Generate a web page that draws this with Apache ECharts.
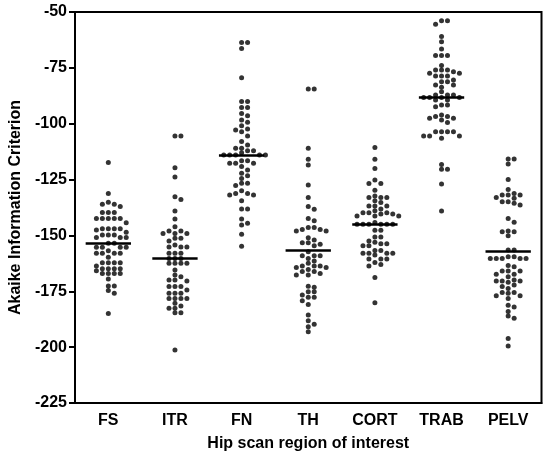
<!DOCTYPE html>
<html>
<head>
<meta charset="utf-8">
<script src="https://cdn.jsdelivr.net/npm/echarts@6/dist/echarts.min.js"></script>
<style>
html,body{margin:0;padding:0;background:#fff;}
#chart{width:550px;height:458px;}
</style>
</head>
<body>
<div id="chart"></div>
<script>
// ---- data ----
var categories = ['FS', 'ITR', 'FN', 'TH', 'CORT', 'TRAB', 'PELV'];
var yTicks = [-225, -200, -175, -150, -125, -100, -75, -50];

var FS = [-117.4, -131.2, -135.2, -136.1, -136.1, -137.1, -139.7, -139.7, -139.7,
  -142.4, -142.4, -142.4, -142.4, -142.4, -144.3, -147.0, -147.0, -147.0, -147.0,
  -147.6, -148.6, -149.8, -149.8, -149.8, -150.9, -150.9, -150.9, -153.5, -153.5,
  -155.3, -155.3, -155.3, -155.3, -156.9, -158.0, -158.0, -158.0, -158.0, -159.8,
  -162.2, -162.2, -162.2, -162.2, -163.7, -164.9, -164.9, -164.9, -164.9, -165.8,
  -167.0, -167.0, -167.0, -167.0, -169.5, -172.6, -172.6, -174.7, -175.9, -184.9];
var ITR = [-105.5, -105.5, -119.7, -123.9, -132.7, -133.9, -139.1, -142.7, -146.1,
  -148.0, -148.0, -149.1, -149.1, -149.1, -151.3, -151.3, -152.5, -154.3,
  -155.2, -155.2, -155.2, -158.0, -158.0, -158.0, -160.3, -160.3, -160.3,
  -162.5, -162.5, -162.5, -162.5, -165.5, -167.7, -168.5, -170.0, -170.0, -170.4,
  -172.9, -172.9, -172.9, -174.4, -175.9, -175.9, -175.9, -178.2, -178.2, -178.2,
  -178.2, -180.4, -181.6, -182.6, -182.6, -184.6, -184.6, -201.3];
var FN = [-63.7, -63.7, -66.3, -79.4, -90.1, -90.1, -92.7, -92.7, -95.4, -96.4,
  -98.3, -99.4, -100.9, -102.4, -102.8, -103.6, -105.5, -108.0, -109.5, -111.0,
  -111.0, -112.1, -112.1, -113.0, -114.0, -114.0, -114.0, -114.0, -114.0, -116.6,
  -116.6, -117.7, -117.7, -117.7, -119.2, -120.7, -122.2, -123.3, -124.5, -126.7,
  -126.7, -127.7, -130.0, -131.2, -131.2, -131.9, -131.9, -134.5, -138.2, -138.2,
  -142.7, -144.6, -145.3, -149.5, -154.8];
var TH = [-84.5, -84.5, -111.0, -115.9, -118.5, -127.4, -133.0, -137.1, -138.3,
  -142.4, -143.4, -146.5, -146.5, -147.3, -147.3, -148.0, -148.0, -151.0, -152.1,
  -153.3, -153.3, -154.0, -154.6, -157.3, -159.1, -159.1, -159.1, -160.3, -161.5,
  -162.5, -163.7, -163.7, -163.7, -164.4, -164.4, -165.2, -166.2, -166.2, -167.0,
  -167.7, -167.7, -172.7, -173.2, -175.2, -175.2, -176.7, -177.7, -177.7, -179.2,
  -180.9, -185.6, -188.2, -189.7, -190.9, -193.1];
var CORT = [-110.7, -115.9, -120.1, -125.2, -126.8, -126.8, -129.8, -132.4, -133.0,
  -133.0, -133.0, -134.5, -135.3, -136.8, -136.8, -136.8, -138.2, -138.9, -139.8,
  -139.8, -139.8, -140.4, -140.4, -141.3, -141.3, -141.3, -144.2, -145.0, -145.0,
  -145.0, -145.0, -145.0, -145.0, -147.7, -147.7, -150.7, -150.7, -152.5, -153.1,
  -153.7, -153.7, -154.6, -154.6, -156.8, -156.8, -158.0, -158.0, -158.0, -158.0,
  -158.8, -160.6, -160.6, -160.6, -162.1, -163.0, -163.7, -168.8, -180.1];
var TRAB = [-53.9, -53.9, -55.5, -61.0, -63.3, -66.6, -69.5, -69.5, -69.5, -74.0,
  -76.0, -76.0, -76.0, -76.7, -77.4, -77.4, -78.6, -78.6, -78.6, -80.4, -81.2,
  -81.2, -82.7, -82.7, -83.7, -85.7, -87.1, -87.1, -87.1, -88.3, -88.3, -88.3,
  -88.3, -89.4, -89.4, -91.6, -91.6, -92.4, -96.1, -96.8, -96.8, -97.6, -97.6,
  -98.3, -99.5, -103.6, -103.6, -103.6, -103.6, -105.5, -105.5, -105.5, -106.5,
  -118.2, -120.4, -120.4, -127.0, -139.1];
var PELV = [-115.8, -115.8, -118.0, -125.0, -129.4, -131.2, -131.9, -131.9, -131.9,
  -133.0, -133.4, -134.9, -134.9, -135.6, -136.4, -142.4, -144.1, -148.0, -148.3,
  -148.3, -150.1, -156.5, -156.5, -159.5, -159.5, -160.3, -160.3, -160.3, -160.3,
  -160.3, -163.5, -164.0, -165.9, -165.9, -165.9, -167.4, -167.4, -168.5, -170.0,
  -170.4, -170.4, -170.4, -171.0, -172.2, -172.9, -173.7, -175.5, -175.5, -175.9,
  -177.0, -177.0, -178.2, -181.2, -182.0, -184.1, -186.1, -187.1, -196.1, -199.5];
var medians = [-153.7, -160.4, -114.0, -156.5, -145.0, -88.3, -157.0];

// ---- layout ----
var W = 550, H = 458;
var gridLeft = 72, gridRight = 8.5, gridTop = 12, gridBottom = 55;
var yMin = -225, yMax = -50;
var groups = [FS, ITR, FN, TH, CORT, TRAB, PELV];
var pxPerY = (H - gridTop - gridBottom) / (yMax - yMin);
var pxPerCat = (W - gridLeft - gridRight) / categories.length;
var colStepPx = 6;
var minGapPx = 4.4;

// beeswarm on a fixed column grid, computed from the values
function swarm(values, catIndex) {
  var sorted = values.slice().sort(function (a, b) { return b - a; });
  var placed = [];
  var out = [];
  sorted.forEach(function (v) {
    for (var k = 0; k < 40; k++) {
      var col = (k === 0) ? 0 : (k % 2 === 1 ? (k + 1) / 2 : -k / 2);
      var ok = true;
      for (var j = 0; j < placed.length; j++) {
        if (placed[j].col === col && Math.abs(placed[j].v - v) * pxPerY < minGapPx) { ok = false; break; }
      }
      if (ok) {
        placed.push({ col: col, v: v });
        out.push([catIndex + col * colStepPx / pxPerCat, v]);
        break;
      }
    }
  });
  return out;
}

var pts = [];
groups.forEach(function (g, i) { pts = pts.concat(swarm(g, i)); });

var medianLines = medians.map(function (m, i) {
  return [{ coord: [i - 0.34, m] }, { coord: [i + 0.34, m] }];
});

var font = 'Liberation Sans, Arial, Helvetica, sans-serif';
var chart = echarts.init(document.getElementById('chart'), null, { renderer: 'canvas' });
chart.setOption({
  animation: false,
  backgroundColor: '#fff',
  grid: {
    left: gridLeft, right: gridRight, top: gridTop, bottom: gridBottom,
    show: true, borderColor: '#000', borderWidth: 2, backgroundColor: 'transparent'
  },
  xAxis: [{
    type: 'category',
    data: categories,
    boundaryGap: true,
    axisLine: { onZero: false, lineStyle: { color: '#000', width: 2 } },
    axisTick: { alignWithLabel: true, length: 5, lineStyle: { color: '#000', width: 2 } },
    axisLabel: { color: '#000', fontWeight: 'bold', fontSize: 16, fontFamily: font, margin: 10 },
    splitLine: { show: false },
    name: 'Hip scan region of interest',
    nameLocation: 'middle',
    nameGap: 33,
    nameTextStyle: { color: '#000', fontWeight: 'bold', fontSize: 16, fontFamily: font }
  }, {
    type: 'value',
    min: -0.5, max: categories.length - 0.5,
    show: false,
    splitLine: { show: false }
  }],
  yAxis: {
    type: 'value',
    min: yMin, max: yMax, interval: 25,
    axisLine: { show: true, onZero: false, lineStyle: { color: '#000', width: 2 } },
    axisTick: { show: true, length: 6, lineStyle: { color: '#000', width: 2 } },
    axisLabel: {
      color: '#000', fontWeight: 'bold', fontSize: 16, fontFamily: font, margin: 8,
      customValues: yTicks
    },
    splitLine: { show: false },
    name: 'Akaike Information Criterion',
    nameLocation: 'middle',
    nameGap: 51,
    nameTextStyle: { color: '#000', fontWeight: 'bold', fontSize: 16, fontFamily: font }
  },
  series: [{
    type: 'scatter',
    xAxisIndex: 1,
    data: pts,
    symbol: 'circle',
    symbolSize: 5,
    itemStyle: { color: '#000' },
    markLine: {
      silent: true,
      symbol: ['none', 'none'],
      label: { show: false },
      lineStyle: { color: '#000', width: 2.5, type: 'solid' },
      data: medianLines
    }
  }]
});
</script>
</body>
</html>
